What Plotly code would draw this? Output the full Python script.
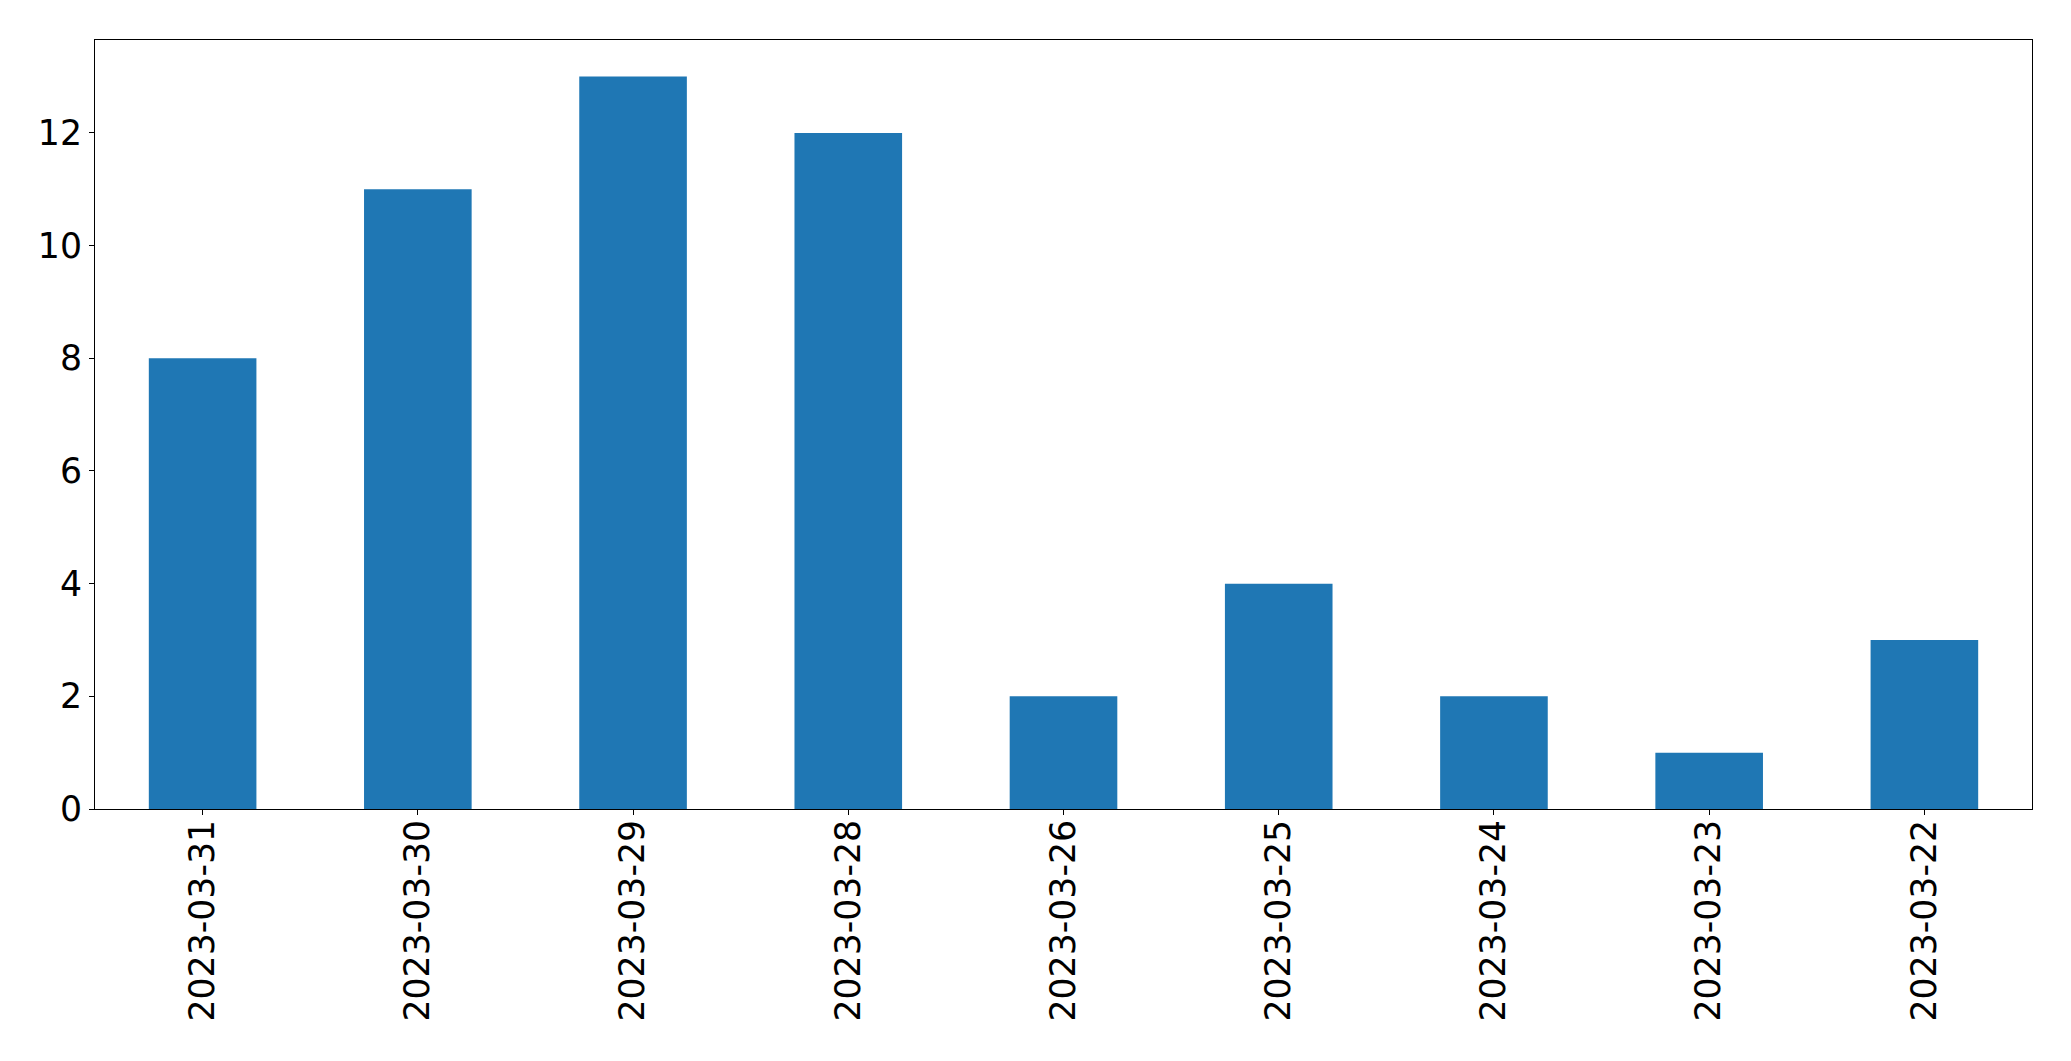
import plotly.graph_objects as go

categories = ["2023-03-31", "2023-03-30", "2023-03-29", "2023-03-28", "2023-03-26",
              "2023-03-25", "2023-03-24", "2023-03-23", "2023-03-22"]
counts = [8, 11, 13, 12, 2, 4, 2, 1, 3]
y_ticks = [0, 2, 4, 6, 8, 10, 12]

fig = go.Figure(go.Bar(x=categories, y=counts, marker=dict(color="#1f77b4", line=dict(width=0))))

fig.update_layout(
    width=2071, height=1061,
    margin=dict(l=94.5, r=38.5, t=39.5, b=252, autoexpand=False),
    plot_bgcolor="white", paper_bgcolor="white",
    font=dict(family="DejaVu Sans", size=34.7, color="black"),
    bargap=0.5,
    showlegend=False,
)
fig.update_xaxes(type="category", showline=True, mirror=True, linecolor="black", linewidth=1.1,
                 ticks="outside", ticklen=5, tickwidth=1.1, tickcolor="black", tickangle=-90,
                 showgrid=False, range=[-0.5, 8.5], automargin=False, ticklabelstandoff=-9)
fig.update_yaxes(range=[0, 13.65], tickvals=y_ticks, showline=True, mirror=True, linecolor="black",
                 linewidth=1.1, ticks="outside", ticklen=5, tickwidth=1.1, tickcolor="black",
                 showgrid=False, zeroline=False, automargin=False)

fig.write_html("out.html", config={"displayModeBar": False},
               post_script="document.body.style.margin='0';document.body.style.overflow='hidden';")
